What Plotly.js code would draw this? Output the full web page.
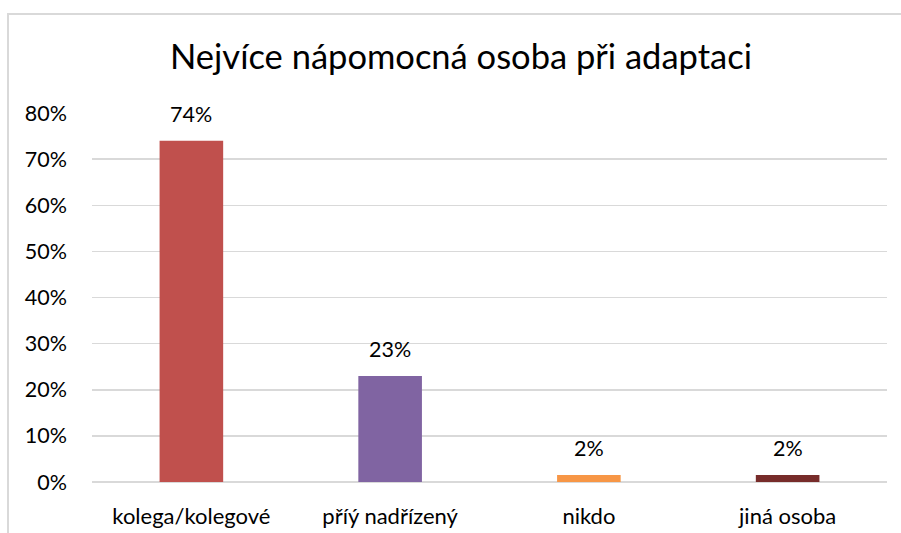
<!DOCTYPE html>
<html>
<head>
<meta charset="utf-8">
<script src="https://cdn.plot.ly/plotly-3.0.1.min.js"></script>
<style>
html,body{margin:0;padding:0;background:#fff;}
#wrap{position:relative;width:901px;height:533px;overflow:hidden;background:#fff;}
#frame{position:absolute;left:7px;top:13px;width:1000px;height:1000px;border:2px solid #d9d9d9;box-sizing:border-box;}
#chart{position:absolute;left:0;top:0;width:901px;height:533px;}
</style>
</head>
<body>
<div id="wrap"><div id="frame"></div><div id="chart"></div></div>
<script>
const categories = ["kolega/kolegové", "příý nadřízený", "nikdo", "jiná osoba"];
const values = [0.74, 0.23, 0.015, 0.015];
const labels = ["74%", "23%", "2%", "2%"];
const colors = ["#C0504D", "#8064A2", "#F79646", "#772C2A"];
const yTickVals = [0, 0.1, 0.2, 0.3, 0.4, 0.5, 0.6, 0.7, 0.8];
const yTickText = ["0%", "10%", "20%", "30%", "40%", "50%", "60%", "70%", "80%"];

const FONT = "Lato, 'Liberation Sans', sans-serif";

const trace = {
  type: "bar",
  x: categories,
  y: values,
  marker: {color: colors},
  hoverinfo: "none"
};

const annotations = categories.map((c, i) => ({
  x: c, y: values[i], xref: "x", yref: "y",
  text: labels[i], showarrow: false,
  yanchor: "bottom", yshift: 12,
  font: {family: FONT, size: 21.5, color: "#000"}
}));

const layout = {
  width: 901, height: 533,
  margin: {l: 92, r: 14, t: 113, b: 51},
  paper_bgcolor: "rgba(0,0,0,0)",
  plot_bgcolor: "rgba(0,0,0,0)",
  bargap: 0.68,
  showlegend: false,
  title: {
    text: "Nejvíce nápomocná osoba při adaptaci",
    font: {family: FONT, size: 34.5, color: "#000"},
    x: 461 / 901, xref: "container", xanchor: "center",
    y: 62, yref: "container", yanchor: "middle"
  },
  xaxis: {
    type: "category",
    showgrid: false, zeroline: false, showline: false,
    ticks: "", ticklabelstandoff: 19,
    tickfont: {family: FONT, size: 22, color: "#000"}
  },
  yaxis: {
    range: [0, 0.8],
    tickvals: yTickVals, ticktext: yTickText,
    showgrid: true, gridcolor: "#d9d9d9", gridwidth: 1.5,
    zeroline: true, zerolinecolor: "#d9d9d9", zerolinewidth: 1.5,
    showline: false, ticks: "", ticklabelstandoff: 24,
    tickfont: {family: FONT, size: 21.5, color: "#000"}
  },
  annotations: annotations
};

Plotly.newPlot("chart", [trace], layout, {displayModeBar: false, staticPlot: true});
</script>
</body>
</html>
